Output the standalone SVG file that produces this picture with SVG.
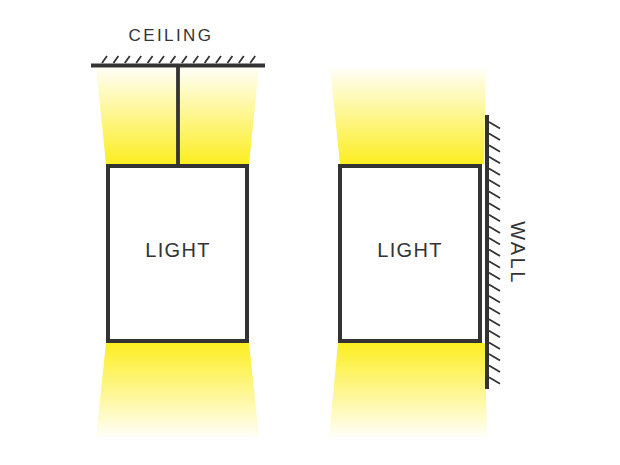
<svg xmlns="http://www.w3.org/2000/svg" width="620" height="465" viewBox="0 0 620 465">
<defs>
<linearGradient id="up" x1="0" y1="1" x2="0" y2="0">
<stop offset="0" stop-color="#FCEE21" stop-opacity="1"/>
<stop offset="1" stop-color="#FCEE21" stop-opacity="0.03"/>
</linearGradient>
<linearGradient id="down" x1="0" y1="0" x2="0" y2="1">
<stop offset="0" stop-color="#FCEE21" stop-opacity="1"/>
<stop offset="1" stop-color="#FCEE21" stop-opacity="0.03"/>
</linearGradient>
</defs>
<style>
.ln{stroke:#333;stroke-width:4;fill:none}
.ht{stroke:#333;stroke-width:1.8;fill:none}
.box{fill:#fff;stroke:#333;stroke-width:4}
.lbl{font-family:"Liberation Sans",Arial,sans-serif;font-size:20px;fill:#333;letter-spacing:1.3px;text-anchor:middle}
</style>
<rect width="620" height="465" fill="#fff"/>
<g id="ceiling">
<line class="ln" x1="91" y1="65.5" x2="265" y2="65.5"/>
<path class="ht" d="M102,63l5,-7M113.4,63l5,-7M124.8,63l5,-7M136.2,63l5,-7M147.6,63l5,-7M159,63l5,-7M170.4,63l5,-7M181.8,63l5,-7M193.2,63l5,-7M204.6,63l5,-7M216,63l5,-7M227.4,63l5,-7M238.8,63l5,-7M250.2,63l5,-7"/>
<text class="lbl" x="171" y="41" style="font-size:17px;letter-spacing:2.4px">CEILING</text>
</g>
<g id="light-left">
<polygon points="96,67 259,67 249,164 106,164" fill="url(#up)"/>
<polygon points="106,343 249,343 259,437 96,437" fill="url(#down)"/>
<rect class="box" x="108" y="166" width="139" height="175"/>
<text class="lbl" x="178" y="257">LIGHT</text>
</g>
<g id="light-right">
<polygon points="330,68 486,68 484,164 340,164" fill="url(#up)"/>
<polygon points="338,343 485,343 487,437 329,437" fill="url(#down)"/>
<rect class="box" x="340" y="166" width="140" height="175"/>
<text class="lbl" x="410" y="257">LIGHT</text>
</g>
<g id="wall">
<line class="ln" x1="487" y1="115" x2="487" y2="389"/>
<path class="ht" d="M489,122l11,6.5M489,133.6l11,6.5M489,145.2l11,6.5M489,156.8l11,6.5M489,168.4l11,6.5M489,180l11,6.5M489,191.6l11,6.5M489,203.2l11,6.5M489,214.8l11,6.5M489,226.4l11,6.5M489,238l11,6.5M489,249.6l11,6.5M489,261.2l11,6.5M489,272.8l11,6.5M489,284.4l11,6.5M489,296l11,6.5M489,307.6l11,6.5M489,319.2l11,6.5M489,330.8l11,6.5M489,342.4l11,6.5M489,354l11,6.5M489,365.6l11,6.5M489,377.2l11,6.5"/>
<text class="lbl" transform="translate(511,253) rotate(90)" x="0" y="0" style="letter-spacing:2.5px">WALL</text>
</g>
<g id="connectors">
<line class="ln" x1="178" y1="66" x2="178" y2="166" style="stroke-width:3.8"/>
</g>
</svg>
